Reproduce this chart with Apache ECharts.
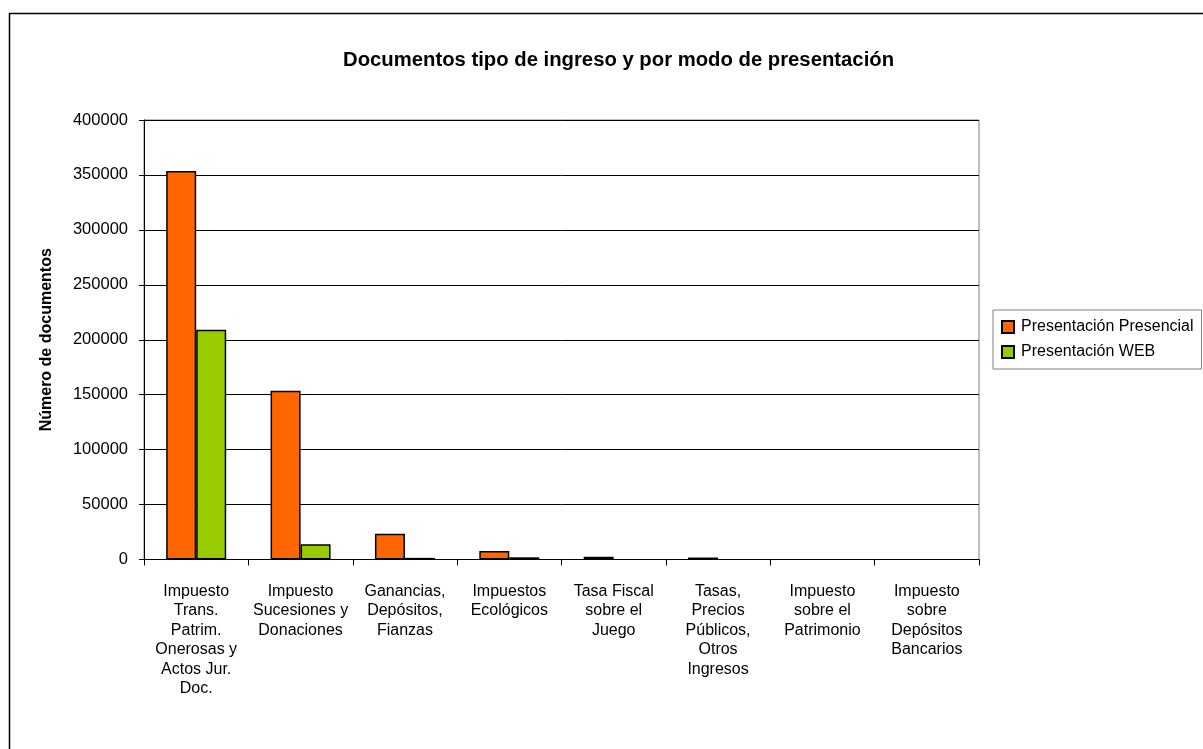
<!DOCTYPE html>
<html><head><meta charset="utf-8">
<script src="https://cdn.jsdelivr.net/npm/echarts@6/dist/echarts.min.js"></script>
<style>html,body{margin:0;padding:0;background:#fff}#c{width:1203px;height:749px}</style>
</head><body><div id="c"></div>
<script>
const categories = [
  "Impuesto\nTrans.\nPatrim.\nOnerosas y\nActos Jur.\nDoc.",
  "Impuesto\nSucesiones y\nDonaciones",
  "Ganancias,\nDepósitos,\nFianzas",
  "Impuestos\nEcológicos",
  "Tasa Fiscal\nsobre el\nJuego",
  "Tasas,\nPrecios\nPúblicos,\nOtros\nIngresos",
  "Impuesto\nsobre el\nPatrimonio",
  "Impuesto\nsobre\nDepósitos\nBancarios"
];
const presencial = [353500, 153500, 23500, 7800, 2500, 1800, 0, 0];
const web = [209000, 13800, 1500, 2000, 0, 0, 0, 0];
const yTicks = [0, 50000, 100000, 150000, 200000, 250000, 300000, 350000, 400000];

const FONT = "Liberation Sans, Arial, sans-serif";
const hideZero = arr => arr.map(v => v === 0 ? '-' : v);
const chart = echarts.init(document.getElementById('c'), null, {renderer: 'canvas'});
chart.setOption({
  animation: false,
  backgroundColor: '#fff',
  textStyle: {fontFamily: FONT, color: '#000'},
  title: {
    text: 'Documentos tipo de ingreso y por modo de presentación',
    left: 338, top: 45,
    textStyle: {fontFamily: FONT, fontWeight: 'bold', fontSize: 20.3, color: '#000'}
  },
  graphic: [{
    type: 'rect', left: 7, top: 11, silent: true,
    shape: {width: 1300, height: 800},
    style: {fill: 'none', stroke: '#000', lineWidth: 1.5}
  }],
  legend: {
    orient: 'vertical', left: 993, top: 310,
    padding: [9, 8, 9, 8],
    itemGap: 9, itemWidth: 12, itemHeight: 12,
    borderColor: '#808080', borderWidth: 1,
    icon: 'rect',
    textStyle: {fontFamily: FONT, fontSize: 16, color: '#000', padding: [0, 0, 0, 2]},
    data: ['Presentación Presencial', 'Presentación WEB']
  },
  grid: {left: 144, right: 224, top: 120, bottom: 189.5, show: true, borderColor: '#808080', borderWidth: 1, containLabel: false},
  xAxis: {
    type: 'category', data: categories,
    axisLine: {lineStyle: {color: '#000', width: 1}},
    axisTick: {show: true, length: 6, lineStyle: {color: '#000'}},
    axisLabel: {interval: 0, margin: 22, fontSize: 16, lineHeight: 19.5, color: '#000', fontFamily: FONT}
  },
  yAxis: {
    type: 'value', min: yTicks[0], max: yTicks[yTicks.length - 1], interval: 50000,
    name: 'Número de documentos', nameLocation: 'middle', nameGap: 89, nameRotate: 90,
    nameTextStyle: {fontFamily: FONT, fontWeight: 'bold', fontSize: 16, color: '#000'},
    axisLine: {show: true, lineStyle: {color: '#000', width: 1}},
    axisTick: {show: true, length: 5, lineStyle: {color: '#000'}},
    axisLabel: {margin: 16, fontSize: 16.5, color: '#000', fontFamily: FONT, formatter: v => String(v)},
    splitLine: {lineStyle: {color: '#000', width: 1}}
  },
  series: [
    {name: 'Presentación Presencial', type: 'bar', data: hideZero(presencial), barWidth: 30, barGap: '0%',
     itemStyle: {color: '#FF6600', borderColor: '#000', borderWidth: 1.5}},
    {name: 'Presentación WEB', type: 'bar', data: hideZero(web), barWidth: 30, barGap: '0%',
     itemStyle: {color: '#99CC00', borderColor: '#000', borderWidth: 1.5}}
  ]
});
</script></body></html>
